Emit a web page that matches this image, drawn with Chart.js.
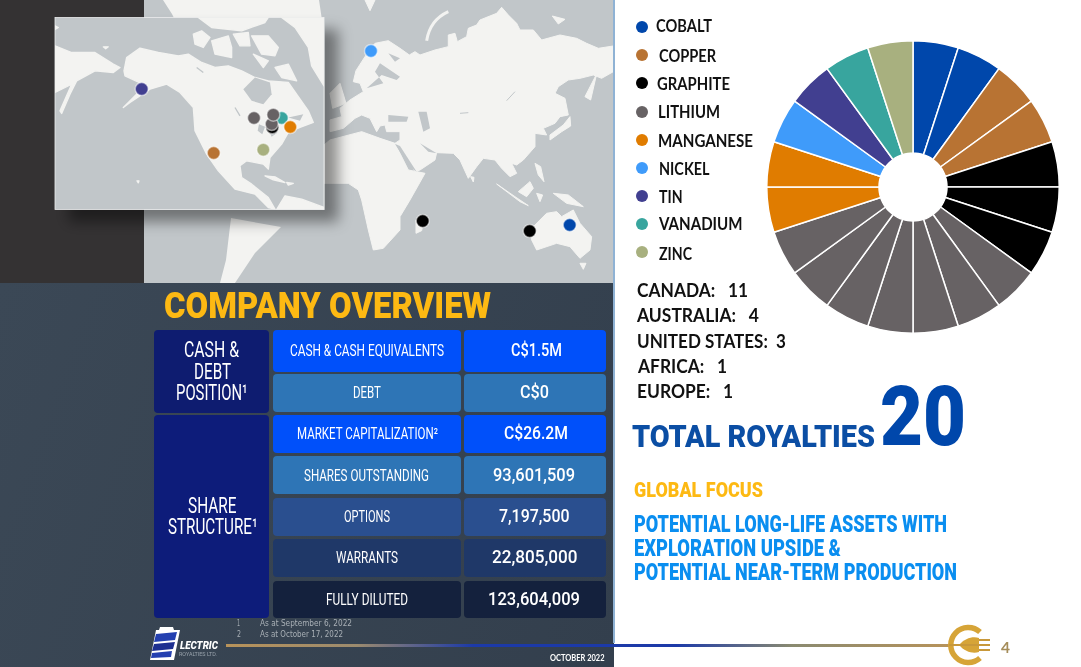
<!DOCTYPE html>
<html lang="en">
<head>
<meta charset="UTF-8">
<title>Company Overview</title>
<script src="https://cdn.jsdelivr.net/npm/chart.js"></script>
<style>
  html, body { margin: 0; padding: 0; background: #fff; }
  #slide { position: relative; width: 1081px; height: 667px; overflow: hidden; background: #fff; }
  #lower { position: absolute; left: 0; top: 283px; width: 614px; height: 384px; background: linear-gradient(110deg, #3b4856, #333f4d); }
  #edge { position: absolute; left: 613px; top: 0; width: 2px; height: 643px; background: #8fb2d4; }
  #map { position: absolute; left: 0; top: 0; width: 620px; height: 285px; }
  #dots { position: absolute; left: 0; top: 0; width: 620px; height: 285px; }
  #pie { position: absolute; left: 765.5px; top: 40px; width: 294px; height: 294px; }
  .cell { position: absolute; border-radius: 4px; }
  .t { position: absolute; white-space: pre; line-height: 1; transform-origin: 0 50%; }
  .dot { position: absolute; width: 12px; height: 12px; border-radius: 50%; }
  #rule { position: absolute; left: 226px; top: 643.5px; width: 726px; height: 3px; background: linear-gradient(90deg, #b8935a 0%, #9c8b6e 18%, #1c3aa8 34%, #1c3aa8 62%, #8a8a70 78%, #b8935a 100%); }
</style>
</head>
<body>
<div id="slide">
  <div id="lower"></div>
  <svg id="map" viewBox="0 0 620 285">
    <defs>
      <clipPath id="worldClip"><rect x="144" y="0" width="470" height="283"/></clipPath>
      <clipPath id="insetClip"><rect x="0" y="0" width="807" height="576"/></clipPath>
      <filter id="shade" x="-20%" y="-20%" width="150%" height="150%"><feDropShadow dx="14" dy="12" stdDeviation="7" flood-color="#000" flood-opacity="0.42"/></filter>
      <filter id="soft"><feGaussianBlur stdDeviation="1"/></filter>
    </defs>
    <rect x="0" y="0" width="144" height="283" fill="#343233"/>
    <rect x="144" y="0" width="470" height="283" fill="#c1c6c9"/>
    <g clip-path="url(#worldClip)">
      <path fill="#f3f3f1" d="M163 0L319 0L322 20L300 30L180 30L172 14Z"/>
      <path fill="#f3f3f1" d="M231 218L281 227L255 253L235 283L220 283L226 260Z"/>
      <g transform="translate(320,0) scale(0.3333)" fill="#f3f3f1" stroke="#f3f3f1" stroke-width="3" stroke-linejoin="round" filter="url(#soft)">
        <path d="M100 245L108 212L135 170L165 130L205 122L240 145L268 165L285 155L300 165L345 150L385 140L385 105L405 100L412 125L440 110L445 85L470 75L480 60L530 40L545 22L565 45L590 70L600 90L640 90L665 120L720 105L770 115L800 130L835 145L880 138L880 215L845 235L820 225L780 235L745 240L715 260L705 280L735 295L745 345L720 350L705 370L670 385L680 405L645 400L645 440L610 480L590 495L575 490L590 520L570 530L545 505L525 480L490 475L470 500L445 535L420 480L400 460L350 458L345 480L300 510L285 515L240 440L225 430L240 420L240 395L200 395L195 375L180 378L170 395L150 355L125 345L105 355L70 385L30 395L30 360L65 350L60 325L90 300L130 275L120 250Z"/>
        <path d="M12 435L30 420L125 395L180 415L225 430L265 510L315 520L270 600L240 650L240 690L190 745L160 750L145 690L125 600L115 570L85 550L12 550Z"/>
        <path d="M288 660L312 650L305 692L288 700Z"/>
        <path d="M635 720L630 690L680 640L710 635L725 650L760 630L780 670L815 710L810 750L780 775L750 740L710 730L650 750Z"/>
        <path d="M780 790L798 790L790 808Z"/>
        <path d="M595 575L630 545L640 565L620 590Z"/>
        <path d="M650 580L668 585L660 605Z"/>
        <path d="M700 580L745 585L790 620L740 610Z"/>
        <path d="M645 490L662 500L672 545L655 525Z"/>
        <path d="M452 530L462 532L460 546Z"/>
        <path d="M750 350L752 378L725 395L690 420L690 405L730 375Z"/>
        <path d="M795 290L830 222L812 300Z"/>
        <path d="M697 48L735 58L715 72Z"/>
        <path d="M135 0L165 0L150 32Z"/>
        <path d="M30 280L60 250L78 310L38 325Z"/>
        <path d="M320 122Q330 60 385 35" fill="none" stroke-width="9"/>
        <path d="M530 552L585 590L625 617L600 605Z"/>
      </g>
      <g transform="translate(320,0) scale(0.3333)" fill="#c1c6c9" filter="url(#soft)">
        <path d="M140 265L190 250L165 215L180 190L240 230L230 240L185 225Z"/>
        <path d="M205 345L265 350L260 365L205 365Z"/>
        <path d="M295 335L320 335L330 385L310 395Z"/>
        <path d="M300 430L350 460L325 455Z"/>
        <path d="M225 432L240 438L290 515L268 500Z"/>
        <path d="M205 160L240 175L225 185Z"/>
        <path d="M560 302L585 275" fill="none" stroke="#c1c6c9" stroke-width="3"/>
        <path d="M420 340L445 338" fill="none" stroke="#c1c6c9" stroke-width="3"/>
      </g>
    </g>
    <g transform="translate(55,17.5)">
      <rect x="0" y="0" width="269" height="192" fill="#c1c6c9" stroke="#eceded" stroke-width="0.8" filter="url(#shade)"/>
      <g transform="scale(0.3333)" clip-path="url(#insetClip)">
        <g fill="#f3f3f1" stroke="#f3f3f1" stroke-width="4" stroke-linejoin="round" filter="url(#soft)">
          <path d="M0 85L50 105L120 105L175 140L195 150L175 165L120 160L65 190L45 230L20 288L15 280L50 200L0 225Z"/>
          <path d="M207 160L215 120L255 92L310 105L370 115L400 110L440 135L480 150L520 145L560 160L600 180L640 190L700 195L760 280L775 315L735 330L700 345L680 380L645 420L640 455L625 440L575 430L555 445L560 480L590 500L640 540L660 575L640 570L600 530L540 515L490 460L455 410L420 340L415 270L375 225L335 200L285 215L225 255L205 270L250 225L275 205L210 175Z"/>
          <path d="M415 50L440 40L465 60L445 90L420 80Z"/>
          <path d="M470 70L520 55L530 90L530 120L480 110Z"/>
          <path d="M535 50L580 45L585 85L555 85Z"/>
          <path d="M590 55L640 55L670 90L660 115L620 110Z"/>
          <path d="M595 110L640 130L625 150Z"/>
          <path d="M660 150L700 140L725 190L680 180Z"/>
          <path d="M430 0L640 0L630 15L560 40L470 30Z"/>
          <path d="M680 0L807 0L807 205L770 145L760 90L720 30Z"/>
          <path d="M665 576L690 535L740 545L807 570L807 576Z"/>
          <path d="M630 475L660 478L690 495L655 487Z"/>
          <path d="M695 495L715 498L700 503Z"/>
          <path d="M145 88L160 88L152 94Z"/>
          <path d="M246 490L252 490L250 496Z"/>
          <path d="M0 25L10 30L0 36Z"/>
        </g>
        <g fill="#c1c6c9" filter="url(#soft)">
          <path d="M565 215L600 180L645 195L650 230L625 260L590 250Z"/>
          <path d="M612 320L630 328L622 350L608 340Z"/>
          <path d="M640 335L668 345L650 358Z"/>
          <path d="M540 270L555 295" fill="none" stroke="#c1c6c9" stroke-width="4"/>
          <path d="M425 150L445 165" fill="none" stroke="#c1c6c9" stroke-width="4"/>
          <path d="M700 300L745 290L735 310Z"/>
        </g>
      </g>
    </g>
  </svg>
  <div id="dots"><canvas id="dotChart"></canvas></div>
  <div id="edge"></div>
  <div id="pie"><canvas id="pieChart"></canvas></div>
  <div id="rule"></div>
  <svg style="position:absolute;left:149px;top:626px" width="34" height="36" viewBox="0 0 34 36">
    <path d="M11 1L24 1L25 4L31 4L25 34L1 34L7 4L10 4Z" fill="#fff"/>
    <path d="M7 8L28 6L26 14L5 16Z" fill="#2440b0"/>
    <path d="M5 18L26 16L24 23L3 25Z" fill="#1d2f90"/>
    <path d="M3 27L23 25L22 31L2 32Z" fill="#2440b0"/>
  </svg>
  <svg style="position:absolute;left:945px;top:622px" width="50" height="46" viewBox="0 0 50 46">
    <path d="M35 10A17.5 17.5 0 1 0 35 36" fill="none" stroke="#d6a437" stroke-width="5.5"/>
    <path d="M14 23C20 16 28 14 34 16L34 30C28 32 20 30 14 23Z" fill="#d6a437"/>
    <path d="M4 23L36 23M34 18L45 18M34 23L45 23M34 28L45 28" stroke="#c8983a" stroke-width="2"/>
  </svg>
</div>
<script>
// royalties by commodity (one pie slice per royalty)
const commodities = ['COBALT', 'COPPER', 'GRAPHITE', 'LITHIUM', 'MANGANESE', 'NICKEL', 'TIN', 'VANADIUM', 'ZINC'];
const royaltyCounts = [2, 2, 3, 7, 2, 1, 1, 1, 1];
const commodityColors = ['#0047ab', '#b87333', '#000000', '#676264', '#e07c00', '#3f9bfa', '#413f90', '#38a59e', '#a8b07f'];

const regions = ['CANADA:   11', 'AUSTRALIA:   4', 'UNITED STATES:  3', 'AFRICA:   1', 'EUROPE:   1'];

// map markers, in map pixels, later ones sit on top
const markerKinds = ['TIN', 'NICKEL', 'GRAPHITE', 'GRAPHITE', 'COBALT', 'LITHIUM', 'VANADIUM', 'GRAPHITE', 'LITHIUM', 'LITHIUM', 'MANGANESE', 'COPPER', 'ZINC'];
const markerX = [141.7, 371, 422.7, 529.7, 569.7, 254, 281.7, 272.3, 271.7, 273.3, 290.3, 213.7, 263.3];
const markerY = [89, 51, 221, 231, 225, 118, 118, 127.3, 124, 114.7, 127, 153, 149.7];

const tableLabels = ['CASH & CASH EQUIVALENTS', 'DEBT', 'MARKET CAPITALIZATION²', 'SHARES OUTSTANDING', 'OPTIONS', 'WARRANTS', 'FULLY DILUTED'];
const tableValues = ['C$1.5M', 'C$0', 'C$26.2M', '93,601,509', '7,197,500', '22,805,000', '123,604,009'];
const rowColors = ['#0050fa', '#2e75b6', '#0050fa', '#2e75b6', '#2a4f8f', '#1f3868', '#14213d'];

const slide = document.getElementById('slide');

function box(x0, y0, x1, y1, color) {
  const d = document.createElement('div');
  d.className = 'cell';
  d.style.cssText = `left:${x0}px;top:${y0}px;width:${x1 - x0}px;height:${y1 - y0}px;background:${color}`;
  slide.appendChild(d);
}

// place text between x0 and x1, squeezed to fit, centred on y
function text(str, x0, x1, y, font, color) {
  const d = document.createElement('div');
  d.className = 't';
  d.textContent = str;
  d.style.font = font;
  d.style.lineHeight = '1';
  d.style.color = color;
  slide.appendChild(d);
  const k = (x1 - x0) / d.getBoundingClientRect().width;
  d.style.left = x0 + 'px';
  d.style.top = (y - d.offsetHeight / 2) + 'px';
  d.style.transform = `scaleX(${k})`;
}

const NARROW = '"Liberation Sans Narrow", Roboto, sans-serif';
const labelFont = '400 16px ' + NARROW;
const tallFont = '400 22px ' + NARROW;
const valueFont = '500 17.5px Roboto, sans-serif';
const legendFont = '700 16.5px Lato, sans-serif';
const regionFont = '700 18px Lato, sans-serif';

// table
const rowTop = [330, 374, 415, 456, 497.5, 539, 580.5];
const rowBottom = [372, 412, 453, 494, 535.5, 577, 617.5];
const labelX0 = [290, 353, 296.5, 304, 344, 336, 326];
const labelX1 = [444, 381, 437.5, 429, 390, 398, 408];
const valueX0 = [511, 520, 504, 493, 499, 492, 488];
const valueX1 = [562, 549, 568, 575, 569.5, 577.5, 580];
const rowY = [350.5, 393, 434, 475.5, 516.5, 558, 599.5];

box(154, 330, 269, 412.5, '#0e1c70');
box(154, 415, 269, 617.5, '#0d1c7a');
tableLabels.forEach((label, i) => {
  box(273, rowTop[i], 461, rowBottom[i], rowColors[i]);
  box(464, rowTop[i], 606, rowBottom[i], rowColors[i]);
  text(label, labelX0[i], labelX1[i], rowY[i], labelFont, '#fff');
  text(tableValues[i], valueX0[i], valueX1[i], rowY[i], valueFont, '#fff');
});

text('CASH &', 184, 239, 350, tallFont, '#fff');
text('DEBT', 194, 231, 371.5, tallFont, '#fff');
text('POSITION¹', 176, 247.5, 392.5, tallFont, '#fff');
text('SHARE', 187.5, 236, 505.5, tallFont, '#fff');
text('STRUCTURE¹', 167.5, 257, 526.5, tallFont, '#fff');

text('COMPANY OVERVIEW', 164, 491, 306, '900 36px Roboto, sans-serif', '#fdb913');

// footnotes and footer
const footFont = '400 8px "DejaVu Sans", sans-serif';
text('1', 237, 240, 624, footFont, '#a9b0b6');
text('As at September 6, 2022', 260, 352, 624, footFont, '#a9b0b6');
text('2', 237, 241, 634.5, footFont, '#a9b0b6');
text('As at October 17, 2022', 260, 343, 634.5, footFont, '#a9b0b6');
text('LECTRIC', 180, 218, 645, 'italic 900 11px Roboto, sans-serif', '#fff');
text('ROYALTIES LTD.', 179, 217, 653.5, '400 6px Roboto, sans-serif', '#9aa4ad');
text('OCTOBER 2022', 549.5, 604, 658, '700 8.5px Lato, sans-serif', '#fff');
text('4', 1001, 1010, 647, '700 16px Lato, sans-serif', '#a58d5a');

// legend
const legendDotY = [26.7, 55, 83.3, 111.7, 140, 168.3, 196, 224, 252];
const legendTextY = [26.5, 56, 84.5, 112, 141, 169.5, 197, 224.5, 254];
const legendX0 = [656, 658.5, 656.5, 658, 657.5, 658.5, 659, 658.5, 658.5];
const legendX1 = [712, 715.5, 729.5, 720, 752.5, 709, 682.5, 742, 691.5];
commodities.forEach((name, i) => {
  const d = document.createElement('div');
  d.className = 'dot';
  d.style.cssText = `left:635.7px;top:${legendDotY[i] - 6}px;background:${commodityColors[i]}`;
  slide.appendChild(d);
  text(name, legendX0[i], legendX1[i], legendTextY[i], legendFont, '#111');
});

// region counts
const regionX0 = [637, 637, 637, 638, 637];
const regionX1 = [748, 759, 786, 727, 733];
const regionY = [290, 315, 341, 365.5, 391];
regions.forEach((r, i) => {
  text(r, regionX0[i], regionX1[i], regionY[i], regionFont, '#111');
});

// right hand text
const headFont = '900 32px Roboto, sans-serif';
text('TOTAL ROYALTIES', 632, 875, 435.5, headFont, '#0b4ea4');
text('20', 880, 966, 417, '900 84px Roboto, sans-serif', '#0047ab');
text('GLOBAL FOCUS', 634, 763, 490.5, '900 21px Roboto, sans-serif', '#fdb913');
text('POTENTIAL LONG-LIFE ASSETS WITH', 634, 947, 524, '900 23px Roboto, sans-serif', '#0a8ef0');
text('EXPLORATION UPSIDE &', 634, 841, 548, '900 23px Roboto, sans-serif', '#0a8ef0');
text('POTENTIAL NEAR-TERM PRODUCTION', 634, 957, 572, '900 23px Roboto, sans-serif', '#0a8ef0');

// pie: one equal slice per royalty, clockwise from the top
const sliceLabels = [];
const sliceValues = [];
const sliceColors = [];
commodities.forEach((name, i) => {
  for (let n = 0; n < royaltyCounts[i]; n++) {
    sliceLabels.push(name);
    sliceValues.push(1);
    sliceColors.push(commodityColors[i]);
  }
});

new Chart(document.getElementById('pieChart'), {
  type: 'doughnut',
  data: { labels: sliceLabels, datasets: [{ data: sliceValues, backgroundColor: sliceColors, borderColor: '#fff', borderWidth: 1.5, borderAlign: 'center' }] },
  options: {
    responsive: true, maintainAspectRatio: false, animation: false,
    cutout: 34,
    plugins: { legend: { display: false }, tooltip: { enabled: false } }
  }
});

new Chart(document.getElementById('dotChart'), {
  type: 'scatter',
  data: {
    labels: markerKinds,
    datasets: [{
      data: markerX.map((x, i) => ({ x: x, y: markerY[i] })),
      pointRadius: 6.5,
      pointBorderWidth: 1.5,
      pointBorderColor: 'rgba(255,255,255,0.5)',
      pointBackgroundColor: markerKinds.map(k => commodityColors[commodities.indexOf(k)])
    }]
  },
  options: {
    responsive: true, maintainAspectRatio: false, animation: false,
    layout: { padding: 0, autoPadding: false },
    scales: {
      x: { display: false, min: 0, max: 620 },
      y: { display: false, min: 0, max: 285, reverse: true }
    },
    plugins: { legend: { display: false }, tooltip: { enabled: false } }
  }
});
</script>
</body>
</html>
